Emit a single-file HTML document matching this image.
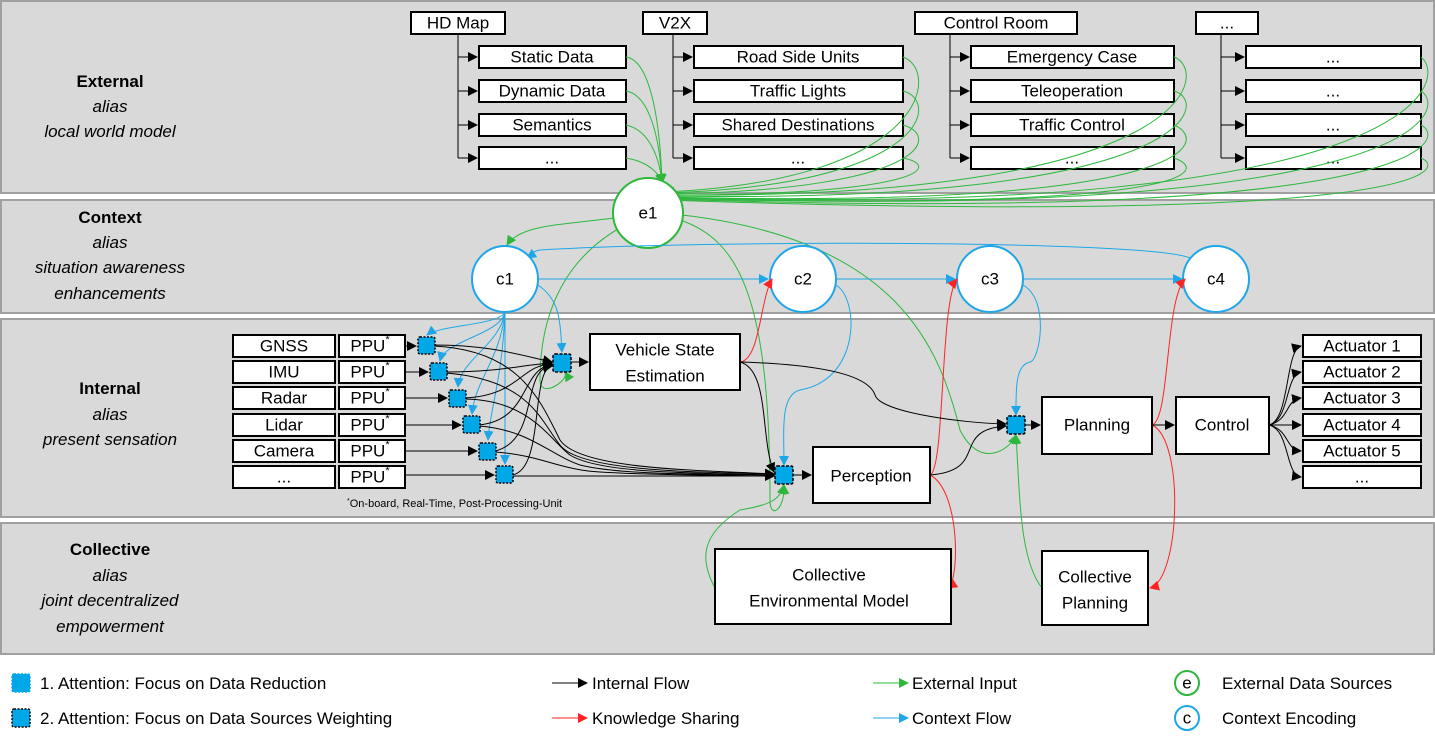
<!DOCTYPE html>
<html><head><meta charset="utf-8"><style>
body{margin:0;background:#fff;}
svg{display:block;font-family:"Liberation Sans",sans-serif;}
.b{fill:#fff;stroke:#000;stroke-width:2}
.t{font-size:17px;text-anchor:middle;dominant-baseline:central;fill:#000}
.L{font-size:17px;text-anchor:middle;fill:#000}
.k{fill:none;stroke:#000;stroke-width:1}
.g{fill:none;stroke:#2db83d;stroke-width:1}
.r{fill:none;stroke:#f22;stroke-width:1}
.c{fill:none;stroke:#1ea6e8;stroke-width:1}
.sq{fill:#00a8e8;stroke:#000;stroke-width:1.5;stroke-dasharray:2 1.5}
.band{fill:#d9d9d9;stroke:#a0a0a0;stroke-width:2}
</style></head><body>
<svg width="1435" height="745" viewBox="0 0 1435 745">
<defs>
<marker id="ak" markerWidth="10" markerHeight="10" refX="9" refY="5" orient="auto" markerUnits="userSpaceOnUse"><path d="M0,0L10,5L0,10z" fill="#000"/></marker>
<marker id="ag" markerWidth="10" markerHeight="10" refX="9" refY="5" orient="auto" markerUnits="userSpaceOnUse"><path d="M0,0L10,5L0,10z" fill="#2db83d"/></marker>
<marker id="ar" markerWidth="10" markerHeight="10" refX="9" refY="5" orient="auto" markerUnits="userSpaceOnUse"><path d="M0,0L10,5L0,10z" fill="#f22"/></marker>
<marker id="ac" markerWidth="10" markerHeight="10" refX="9" refY="5" orient="auto" markerUnits="userSpaceOnUse"><path d="M0,0L10,5L0,10z" fill="#1ea6e8"/></marker>
</defs>
<rect class="band" x="1" y="1" width="1433" height="192"/>
<rect class="band" x="1" y="200" width="1433" height="113"/>
<rect class="band" x="1" y="319" width="1433" height="198"/>
<rect class="band" x="1" y="523" width="1433" height="131"/>

<text class="L" x="110" y="87" font-weight="bold">External</text>
<text class="L" x="110" y="112" font-style="italic">alias</text>
<text class="L" x="110" y="137" font-style="italic">local world model</text>
<text class="L" x="110" y="223" font-weight="bold">Context</text>
<text class="L" x="110" y="248" font-style="italic">alias</text>
<text class="L" x="110" y="273" font-style="italic">situation awareness</text>
<text class="L" x="110" y="299" font-style="italic">enhancements</text>
<text class="L" x="110" y="394" font-weight="bold">Internal</text>
<text class="L" x="110" y="420" font-style="italic">alias</text>
<text class="L" x="110" y="445" font-style="italic">present sensation</text>
<text class="L" x="110" y="555" font-weight="bold">Collective</text>
<text class="L" x="110" y="581" font-style="italic">alias</text>
<text class="L" x="110" y="606" font-style="italic">joint decentralized</text>
<text class="L" x="110" y="632" font-style="italic">empowerment</text>

<g id="ext">
<path class="k" d="M458,34V158"/>
<g marker-end="url(#ak)">
<path class="k" d="M458,57H477"/><path class="k" d="M458,91H477"/><path class="k" d="M458,125H477"/><path class="k" d="M458,158H477"/>
<path class="k" d="M673,57H692"/><path class="k" d="M673,91H692"/><path class="k" d="M673,125H692"/><path class="k" d="M673,158H692"/>
<path class="k" d="M950,57H969"/><path class="k" d="M950,91H969"/><path class="k" d="M950,125H969"/><path class="k" d="M950,158H969"/>
<path class="k" d="M1221,57H1244"/><path class="k" d="M1221,91H1244"/><path class="k" d="M1221,125H1244"/><path class="k" d="M1221,158H1244"/>
</g>
<rect class="b" x="411" y="12" width="94" height="22"/><text class="t" x="458" y="23">HD Map</text>
<rect class="b" x="479" y="46" width="147" height="22"/><text class="t" x="552" y="57">Static Data</text>
<rect class="b" x="479" y="80" width="147" height="22"/><text class="t" x="552" y="91">Dynamic Data</text>
<rect class="b" x="479" y="114" width="147" height="22"/><text class="t" x="552" y="125">Semantics</text>
<rect class="b" x="479" y="147" width="147" height="22"/><text class="t" x="552" y="158">...</text>

<path class="k" d="M673,34V158"/>
<rect class="b" x="643" y="12" width="64" height="22"/><text class="t" x="675" y="23">V2X</text>
<rect class="b" x="694" y="46" width="209" height="22"/><text class="t" x="798" y="57">Road Side Units</text>
<rect class="b" x="694" y="80" width="209" height="22"/><text class="t" x="798" y="91">Traffic Lights</text>
<rect class="b" x="694" y="114" width="209" height="22"/><text class="t" x="798" y="125">Shared Destinations</text>
<rect class="b" x="694" y="147" width="209" height="22"/><text class="t" x="798" y="158">...</text>

<path class="k" d="M950,34V158"/>
<rect class="b" x="915" y="12" width="162" height="22"/><text class="t" x="996" y="23">Control Room</text>
<rect class="b" x="971" y="46" width="203" height="22"/><text class="t" x="1072" y="57">Emergency Case</text>
<rect class="b" x="971" y="80" width="203" height="22"/><text class="t" x="1072" y="91">Teleoperation</text>
<rect class="b" x="971" y="114" width="203" height="22"/><text class="t" x="1072" y="125">Traffic Control</text>
<rect class="b" x="971" y="147" width="203" height="22"/><text class="t" x="1072" y="158">...</text>

<path class="k" d="M1221,34V158"/>
<rect class="b" x="1196" y="12" width="62" height="22"/><text class="t" x="1227" y="23">...</text>
<rect class="b" x="1246" y="46" width="175" height="22"/><text class="t" x="1333" y="57">...</text>
<rect class="b" x="1246" y="80" width="175" height="22"/><text class="t" x="1333" y="91">...</text>
<rect class="b" x="1246" y="114" width="175" height="22"/><text class="t" x="1333" y="125">...</text>
<rect class="b" x="1246" y="147" width="175" height="22"/><text class="t" x="1333" y="158">...</text>
</g>
<g marker-end="url(#ag)">
<path class="g" d="M626,57C650,60 660,120 662,183"/>
<path class="g" d="M626,91C650,95 660,140 662,183"/>
<path class="g" d="M626,125C650,130 660,160 662,183"/>
<path class="g" d="M626,158C650,162 660,175 662,183"/>
<path class="g" d="M903,57C940,70 930,180 665,192"/>
<path class="g" d="M903,91C940,100 930,185 665,193"/>
<path class="g" d="M903,125C940,135 930,190 665,194"/>
<path class="g" d="M903,158C940,165 930,195 665,195"/>
<path class="g" d="M1174,57C1210,70 1200,200 665,195"/>
<path class="g" d="M1174,91C1210,100 1200,205 665,196"/>
<path class="g" d="M1174,125C1210,140 1200,210 665,197"/>
<path class="g" d="M1174,158C1210,170 1200,212 665,198"/>
<path class="g" d="M1421,57C1450,80 1420,220 665,197"/>
<path class="g" d="M1421,91C1450,110 1420,222 665,198"/>
<path class="g" d="M1421,125C1450,140 1420,224 665,199"/>
<path class="g" d="M1421,158C1450,170 1420,226 665,200"/>
</g>
<path class="g" d="M614,218C560,225 520,225 507,245" marker-end="url(#ag)"/>
<path class="g" d="M625,225C560,260 540,320 540,380C540,400 570,380 565,372" marker-end="url(#ag)"/>
<path class="g" d="M680,220C740,240 770,300 770,500C770,520 785,510 784,485" marker-end="url(#ag)"/>
<path class="g" d="M682,215C900,240 940,350 960,430C980,470 1010,450 1016,435" marker-end="url(#ag)"/>
<path class="g" d="M715,588C700,560 700,535 740,510C770,505 780,500 784,485" marker-end="url(#ag)"/>
<path class="g" d="M1042,588C1020,560 1020,500 1016,435" marker-end="url(#ag)"/>

<circle cx="648" cy="213" r="35" fill="#fff" stroke="#2db83d" stroke-width="2"/><text class="t" x="648" y="213">e1</text>
<path class="c" d="M538,279H768" marker-end="url(#ac)"/>
<path class="c" d="M836,279H955" marker-end="url(#ac)"/>
<path class="c" d="M1023,279H1182" marker-end="url(#ac)"/>
<path class="c" d="M1190,258C1150,240 700,240 540,250C530,252 530,256 527,258" marker-end="url(#ac)"/>
<circle cx="505" cy="279" r="33" fill="#fff" stroke="#1ea6e8" stroke-width="2"/><text class="t" x="505" y="279">c1</text>
<circle cx="803" cy="279" r="33" fill="#fff" stroke="#1ea6e8" stroke-width="2"/><text class="t" x="803" y="279">c2</text>
<circle cx="990" cy="279" r="33" fill="#fff" stroke="#1ea6e8" stroke-width="2"/><text class="t" x="990" y="279">c3</text>
<circle cx="1216" cy="279" r="33" fill="#fff" stroke="#1ea6e8" stroke-width="2"/><text class="t" x="1216" y="279">c4</text>
<g marker-end="url(#ac)">
<path class="c" d="M505,312C500,325 440,325 427,335"/>
<path class="c" d="M505,312C500,335 445,340 440,361"/>
<path class="c" d="M505,312C500,345 460,360 458,387"/>
<path class="c" d="M505,312C500,360 475,380 472,414"/>
<path class="c" d="M505,312C502,380 490,410 488,440"/>
<path class="c" d="M505,312V464"/>
<path class="c" d="M538,285C560,300 560,320 562,352"/>
<path class="c" d="M836,285C860,300 860,380 800,390C780,395 784,430 784,465"/>
<path class="c" d="M1023,285C1050,300 1040,360 1030,362C1015,365 1016,390 1016,415"/>
</g>
<path class="r" d="M740,362C760,360 760,300 772,279" marker-end="url(#ar)"/>
<path class="r" d="M930,475C945,470 940,300 957,279" marker-end="url(#ar)"/>
<path class="r" d="M930,475C960,490 960,580 948,588" marker-end="url(#ar)"/>
<path class="r" d="M1152,425C1170,420 1165,300 1185,279" marker-end="url(#ar)"/>
<path class="r" d="M1152,425C1185,440 1180,580 1150,588" marker-end="url(#ar)"/>

<g>
<rect class="b" x="233" y="335" width="102" height="22"/><text class="t" x="284" y="346">GNSS</text>
<rect class="b" x="233" y="361" width="102" height="22"/><text class="t" x="284" y="372">IMU</text>
<rect class="b" x="233" y="387" width="102" height="22"/><text class="t" x="284" y="398">Radar</text>
<rect class="b" x="233" y="414" width="102" height="22"/><text class="t" x="284" y="425">Lidar</text>
<rect class="b" x="233" y="440" width="102" height="22"/><text class="t" x="284" y="451">Camera</text>
<rect class="b" x="233" y="466" width="102" height="22"/><text class="t" x="284" y="477">...</text>
<g font-size="17">
<rect class="b" x="339" y="335" width="66" height="22"/><text class="t" x="370" y="346">PPU<tspan font-size="11" dy="-6">*</tspan></text>
<rect class="b" x="339" y="361" width="66" height="22"/><text class="t" x="370" y="372">PPU<tspan font-size="11" dy="-6">*</tspan></text>
<rect class="b" x="339" y="387" width="66" height="22"/><text class="t" x="370" y="398">PPU<tspan font-size="11" dy="-6">*</tspan></text>
<rect class="b" x="339" y="414" width="66" height="22"/><text class="t" x="370" y="425">PPU<tspan font-size="11" dy="-6">*</tspan></text>
<rect class="b" x="339" y="440" width="66" height="22"/><text class="t" x="370" y="451">PPU<tspan font-size="11" dy="-6">*</tspan></text>
<rect class="b" x="339" y="466" width="66" height="22"/><text class="t" x="370" y="477">PPU<tspan font-size="11" dy="-6">*</tspan></text>
</g>
<text x="347" y="507" font-size="11"><tspan font-size="7" dy="-4">*</tspan><tspan dy="4">On-board, Real-Time, Post-Processing-Unit</tspan></text>
<g marker-end="url(#ak)">
<path class="k" d="M405,346H416"/><path class="k" d="M405,372H428"/><path class="k" d="M405,398H447"/>
<path class="k" d="M405,425H461"/><path class="k" d="M405,451H477"/><path class="k" d="M405,475H494"/>
<path class="k" d="M434,345C490,345 520,355 552,362"/>
<path class="k" d="M446,372C500,372 520,365 552,363"/>
<path class="k" d="M465,398C520,395 520,365 552,364"/>
<path class="k" d="M479,425C530,420 520,370 552,364"/>
<path class="k" d="M495,451C540,440 520,370 552,365"/>
<path class="k" d="M512,475C545,470 530,370 552,366"/>
<path class="k" d="M434,346C520,350 540,400 560,440C580,470 700,470 774,474"/>
<path class="k" d="M446,373C530,380 540,420 560,445C580,472 700,472 774,474"/>
<path class="k" d="M465,399C530,400 550,440 570,455C600,474 700,473 774,475"/>
<path class="k" d="M479,426C530,430 550,455 580,465C620,475 700,474 774,475"/>
<path class="k" d="M495,452C540,455 560,470 600,472C650,475 700,475 774,476"/>
<path class="k" d="M512,476H774"/>
<path class="k" d="M571,362H588"/>
<path class="k" d="M740,362C770,370 760,440 774,472"/>
<path class="k" d="M740,362C840,365 870,380 875,395C880,412 960,423 1006,424"/>
<path class="k" d="M930,475C990,470 950,430 1006,426"/>
<path class="k" d="M793,475H811"/>
<path class="k" d="M1025,425H1040"/>
<path class="k" d="M1152,425H1174"/>
<path class="k" d="M1269,425C1290,420 1285,350 1301,346"/>
<path class="k" d="M1269,425C1290,420 1285,375 1301,372"/>
<path class="k" d="M1269,425C1290,420 1285,400 1301,398"/>
<path class="k" d="M1269,425H1301"/>
<path class="k" d="M1269,425C1290,430 1285,450 1301,451"/>
<path class="k" d="M1269,425C1290,430 1285,475 1301,477"/>
</g>
<rect class="sq" x="418" y="337" width="17" height="17" rx="2"/>
<rect class="sq" x="430" y="363" width="17" height="17" rx="2"/>
<rect class="sq" x="449" y="390" width="17" height="17" rx="2"/>
<rect class="sq" x="463" y="416" width="17" height="17" rx="2"/>
<rect class="sq" x="479" y="443" width="17" height="17" rx="2"/>
<rect class="sq" x="496" y="466" width="17" height="17" rx="2"/>
<rect class="sq" x="553" y="354" width="18" height="18" rx="2" style="stroke-dasharray:3 1.5"/>
<rect class="sq" x="775" y="466" width="18" height="18" rx="2" style="stroke-dasharray:3 1.5"/>
<rect class="sq" x="1007" y="416" width="18" height="18" rx="2" style="stroke-dasharray:3 1.5"/>
<rect class="b" x="590" y="334" width="150" height="56"/><text class="t" x="665" y="350">Vehicle State</text><text class="t" x="665" y="376">Estimation</text>
<rect class="b" x="813" y="447" width="117" height="56"/><text class="t" x="871" y="476">Perception</text>
<rect class="b" x="1042" y="397" width="110" height="57"/><text class="t" x="1097" y="425">Planning</text>
<rect class="b" x="1176" y="397" width="93" height="57"/><text class="t" x="1222" y="425">Control</text>
<rect class="b" x="1303" y="335" width="118" height="22"/><text class="t" x="1362" y="346">Actuator 1</text>
<rect class="b" x="1303" y="361" width="118" height="22"/><text class="t" x="1362" y="372">Actuator 2</text>
<rect class="b" x="1303" y="387" width="118" height="22"/><text class="t" x="1362" y="398">Actuator 3</text>
<rect class="b" x="1303" y="414" width="118" height="22"/><text class="t" x="1362" y="425">Actuator 4</text>
<rect class="b" x="1303" y="440" width="118" height="22"/><text class="t" x="1362" y="451">Actuator 5</text>
<rect class="b" x="1303" y="466" width="118" height="22"/><text class="t" x="1362" y="477">...</text>
</g>
<rect class="b" x="715" y="549" width="236" height="75"/><text class="t" x="829" y="575">Collective</text><text class="t" x="829" y="601">Environmental Model</text>
<rect class="b" x="1042" y="551" width="106" height="74"/><text class="t" x="1095" y="577">Collective</text><text class="t" x="1095" y="603">Planning</text>

<rect class="sq" x="12" y="674" width="18" height="18" rx="2" style="stroke:#00a8e8"/>
<text x="40" y="689" font-size="17">1. Attention: Focus on Data Reduction</text>
<rect class="sq" x="12" y="709" width="18" height="18" rx="2"/>
<text x="40" y="724" font-size="17">2. Attention: Focus on Data Sources Weighting</text>
<path class="k" d="M552,683H587" marker-end="url(#ak)"/><text x="592" y="689" font-size="17">Internal Flow</text>
<path class="r" d="M552,718H587" marker-end="url(#ar)"/><text x="592" y="724" font-size="17">Knowledge Sharing</text>
<path class="g" d="M873,683H908" marker-end="url(#ag)"/><text x="912" y="689" font-size="17">External Input</text>
<path class="c" d="M873,718H908" marker-end="url(#ac)"/><text x="912" y="724" font-size="17">Context Flow</text>
<circle cx="1187" cy="683" r="12" fill="#fff" stroke="#2db83d" stroke-width="2"/><text class="t" x="1187" y="683" font-size="15">e</text>
<circle cx="1187" cy="718" r="12" fill="#fff" stroke="#1ea6e8" stroke-width="2"/><text class="t" x="1187" y="718" font-size="15">c</text>
<text x="1222" y="689" font-size="17">External Data Sources</text>
<text x="1222" y="724" font-size="17">Context Encoding</text>
</svg>
</body></html>
